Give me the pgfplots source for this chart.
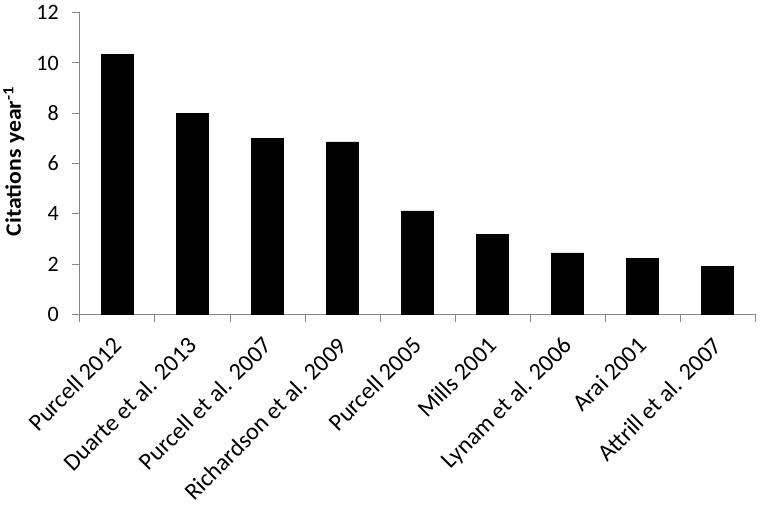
\documentclass[border=0pt]{standalone}
\usepackage{fontspec}
\setmainfont{Carlito}
\usepackage{graphicx}
\usepackage{pgfplots}
\pgfplotsset{compat=1.18}
\definecolor{axisgray}{RGB}{134,134,134}
\begin{document}
\begin{tikzpicture}
\useasboundingbox (-80pt,-190.7pt) rectangle (680pt,314.3pt);
\begin{axis}[
  at={(0,0)}, anchor=south west,
  scale only axis,
  width=675pt, height=301.6pt,
  xmin=-0.5, xmax=8.5,
  ymin=0, ymax=12,
  ytick={0,2,...,12},
  xtick={0,...,8},
  xticklabels={Purcell 2012, Duarte et al. 2013, Purcell et al. 2007, Richardson et al. 2009, Purcell 2005, Mills 2001, Lynam et al. 2006, Arai 2001, Attrill et al. 2007},
  minor xtick={-0.5,0.5,...,8.5},
  axis x line*=bottom,
  axis y line*=left,
  axis line style={axisgray, line width=1pt, -},
  tick align=outside,
  major tick length=8pt,
  minor tick length=8pt,
  major x tick style={draw=none},
  minor x tick style={axisgray, line width=1pt},
  major y tick style={axisgray, line width=1pt},
  /pgf/number format/assume math mode=true,
  yticklabel style={font=\fontsize{22}{26}\selectfont, inner sep=0pt, xshift=-13pt},
  xticklabel style={font=\fontsize{24}{28}\selectfont, xshift=-6pt, yshift=-13pt, rotate=45, anchor=north east, inner sep=0pt},
  ylabel={\scalebox{1.08}[1]{\fontsize{22}{26}\selectfont\bfseries Citations year\textsuperscript{-1}}},
  ylabel style={at={(axis description cs:-0.098,0.507)}, anchor=center},
  ybar, bar width=31.7pt,
  clip=false,
]
\addplot[fill=black, draw=black] coordinates {
  (0,10.33) (1,8.0) (2,7.0) (3,6.86) (4,4.12) (5,3.17) (6,2.44) (7,2.22) (8,1.91)
};
\end{axis}
\end{tikzpicture}
\end{document}
